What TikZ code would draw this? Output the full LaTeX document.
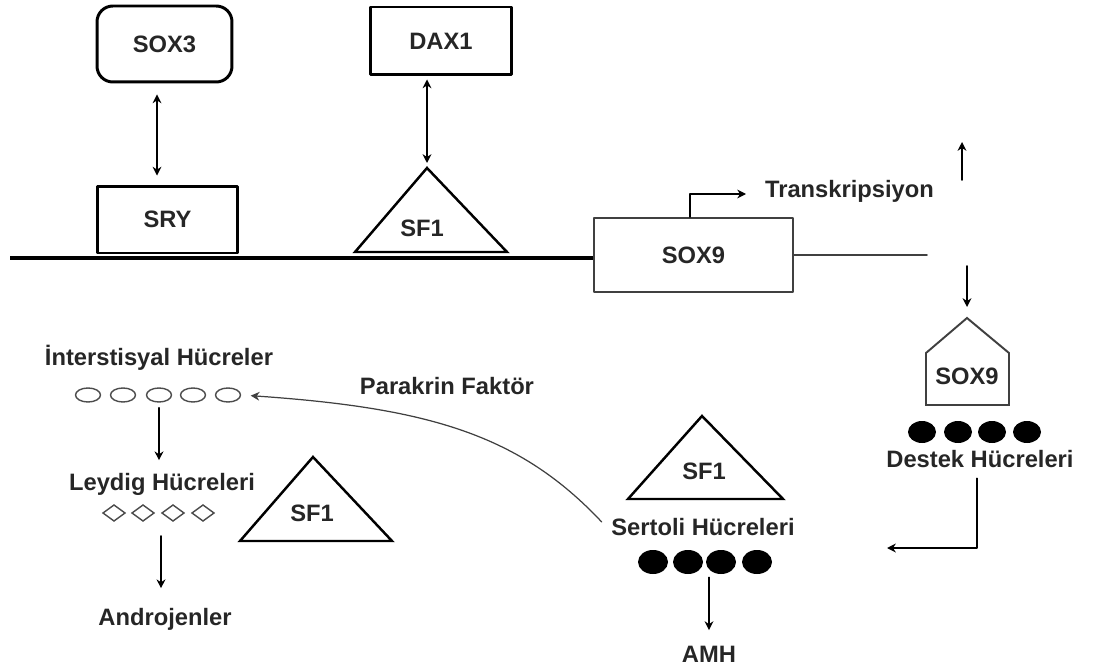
\documentclass[tikz,border=0pt]{standalone}
\usepackage{fontspec}
\setmainfont{Liberation Sans}
\usetikzlibrary{calc,shapes.geometric,arrows.meta}

\tikzset{
  lbl/.style={font=\fontsize{13.5}{16}\selectfont\bfseries, text=black!85, inner sep=1pt},
  genebox/.style={draw, line width=1.7pt, lbl, inner sep=0pt},
  tri/.style={draw, line width=1.4pt, line join=miter},
  cellring/.style={ellipse, draw=black!70, line width=0.8pt, minimum width=0.5cm, minimum height=0.28cm, inner sep=0pt},
  cellfill/.style={ellipse, fill=black, inner sep=0pt},
  arr/.style={->, line width=0.9pt},
}

\begin{document}
\begin{tikzpicture}[x=0.02cm, y=-0.02cm, >={Stealth[length=5pt,width=5pt]}, line join=round, line cap=round]
    \useasboundingbox (0,0) rectangle (1096,669);

    % 上方基因框
    \node[genebox, rounded corners=9pt, minimum width=2.7cm, minimum height=1.52cm] (sox3) at (164.5,44) {SOX3};
    \node[genebox, minimum width=2.82cm, minimum height=1.34cm] (sry) at (167.5,219.5) {SRY};
    \node[genebox, minimum width=2.84cm, minimum height=1.36cm] (dax1) at (441,41) {DAX1};
    \node[genebox, draw=black!75, line width=1.1pt, minimum width=3.98cm, minimum height=1.48cm] (sox9) at (693.5,255) {SOX9};

    % 1. DNA 链 (粗线 + 细线)
    \coordinate (dnaL) at (10,258);
    \coordinate (dnaR) at (927,255);
    \draw[line width=2.3pt, line cap=butt] (dnaL) -- (dnaL -| sox9.west);
    \draw[line width=0.9pt, black!75] (sox9.east) -- (dnaR);

    % 2. 结合在 DNA 上的 SF1
    \coordinate (sfAtop) at (427,168);
    \draw[tri] (sfAtop) -- (507,252) -- (355,252) -- cycle;
    \node[lbl, anchor=base] (sfA) at (422,236.5) {SF1};

    % 双向箭头
    \draw[<->, line width=0.9pt, shorten <=0.22cm, shorten >=0.18cm] ([xshift=-0.15cm]sox3.south) -- ([xshift=-0.21cm]sry.north);
    \draw[<->, line width=0.9pt, shorten <=0.06cm, shorten >=0.1cm] ([xshift=-0.28cm]dax1.south) -- (sfAtop);

    % 3. 转录
    \coordinate (tsEnd) at (746,194);
    \draw[arr] ([xshift=-0.07cm]sox9.north) |- (tsEnd);
    \node[lbl, anchor=base west] (transk) at (763,197.5) {Transkripsiyon};
    \coordinate (upS) at (962,180);
    \coordinate (upE) at (962,142);
    \draw[arr] (upS) -- (upE);

    % 4. SOX9 蛋白与支持细胞
    \coordinate (hsTop) at (967,318);
    \coordinate (dnS) at (967,266);
    \draw[line width=1.1pt, black!75, line join=miter] (hsTop) -- (1009,353) -- (1009,405) -- (926,405) -- (926,353) -- cycle;
    \node[lbl, anchor=base] (sox9p) at (967,384.5) {SOX9};
    \draw[arr, shorten >=0.22cm] (dnS) -- (hsTop);
    \foreach \x [count=\i] in {922,958,992,1027}
        \node[cellfill, minimum width=0.56cm, minimum height=0.44cm] (dc\i) at (\x,432) {};
    \node[lbl, anchor=base] (destek) at (980,467.5) {Destek Hücreleri};
    \coordinate (lEnd) at (887,548);
    \draw[arr, shorten <=0.17cm] ([xshift=-0.06cm]destek.south) |- (lEnd);

    % 5. Sertoli 细胞
    \draw[tri] (702,416) -- (783,499) -- (628,499) -- cycle;
    \node[lbl, anchor=base] (sfC) at (704,479.5) {SF1};
    \node[lbl, anchor=base] (sertoli) at (703,535.5) {Sertoli Hücreleri};
    \foreach \x [count=\i] in {653,688,721,757}
        \node[cellfill, minimum width=0.6cm, minimum height=0.48cm] (sc\i) at (\x,562) {};
    \node[lbl, anchor=base] (amh) at (709,662.5) {AMH};
    \draw[arr, shorten <=0.06cm, shorten >=0.28cm] (amh.north |- sc3.south) -- (amh.north);

    % 6. 间质细胞与 Leydig 细胞
    \node[lbl, anchor=base] (interst) at (159,365.5) {İnterstisyal Hücreler};
    \foreach \x [count=\i] in {88,123,159,193,228}
        \node[cellring] (ic\i) at (\x,395) {};
    \node[lbl, anchor=base] (leydig) at (162,490.5) {Leydig Hücreleri};
    \draw[arr, shorten <=0.1cm, shorten >=0.22cm] (ic3.south) -- (ic3.south |- leydig.north);
    \foreach \x in {114,143,173,203}
        \draw[black!70, line width=0.8pt, line join=miter] (\x-11,513) -- (\x,505) -- (\x+11,513) -- (\x,521) -- cycle;
    \coordinate (ldRow) at (161,536);
    \node[lbl, anchor=base] (androjen) at (165,625.5) {Androjenler};
    \draw[arr, shorten >=0.36cm] (ldRow) -- (ldRow |- androjen.north);
    \draw[tri] (313,457) -- (392,541) -- (240,541) -- cycle;
    \node[lbl, anchor=base] (sfB) at (312,521.5) {SF1};

    % 7. 旁分泌因子
    \node[lbl, anchor=base] (parakrin) at (447,394.5) {Parakrin Faktör};
    \draw[->, line width=0.7pt, black!75, shorten >=0.19cm] ([xshift=-0.15cm,yshift=0.1cm]sertoli.west) .. controls (520,435) and (430,408) .. (ic5.east);
\end{tikzpicture}
\end{document}
